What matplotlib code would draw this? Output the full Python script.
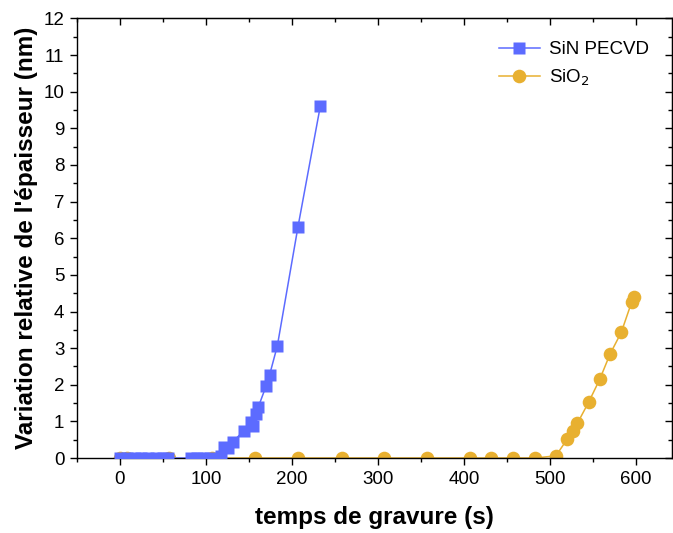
import matplotlib.pyplot as plt
from matplotlib.ticker import MultipleLocator

plt.rcParams['font.family'] = ['Liberation Sans', 'DejaVu Sans']

# SiN PECVD (blue squares)
sin_t = [0, 8, 17, 25, 33, 42, 50, 56, 83, 90, 97, 105,
         117, 121, 126, 131, 144, 152, 155, 158, 161, 170, 174, 183, 207, 233]
sin_d = [0, 0, 0, 0, 0, 0, 0, 0, 0, 0, 0, 0,
         0.05, 0.3, 0.27, 0.44, 0.74, 0.98, 0.87, 1.2, 1.4, 1.97, 2.27, 3.06, 6.31, 9.61]

# SiO2 (orange circles)
sio2_t = [0, 8, 57, 107, 157, 207, 258, 307, 357, 407, 432, 457, 483, 507,
          520, 527, 532, 545, 558, 570, 583, 595, 598]
sio2_d = [0, 0, 0, 0, 0, 0, 0, 0, 0, 0, 0, 0, 0, 0.06,
          0.51, 0.75, 0.95, 1.52, 2.15, 2.84, 3.43, 4.25, 4.40]

blue = '#5C6BFF'
orange = '#E8B030'

fig = plt.figure(figsize=(6.73, 5.33), dpi=100)
ax = fig.add_axes([0.1144, 0.1407, 0.8841, 0.8246])

ax.plot(sin_t, sin_d, color=blue, lw=1.1, marker='s', ms=8.6,
        mec='none', label='SiN PECVD', zorder=3, clip_on=True)
ax.plot(sio2_t, sio2_d, color=orange, lw=1.1, marker='o', ms=9.8,
        mec='none', label='SiO$_2$', zorder=2, clip_on=True)

ax.set_xlim(-50, 642)
ax.set_ylim(0, 12)
ax.xaxis.set_major_locator(MultipleLocator(100))
ax.xaxis.set_minor_locator(MultipleLocator(50))
ax.yaxis.set_major_locator(MultipleLocator(1))
ax.yaxis.set_minor_locator(MultipleLocator(0.5))
ax.tick_params(which='major', direction='out', length=5, width=1,
               labelsize=13.5, pad=4)
ax.tick_params(which='minor', direction='out', length=3, width=1)
for s in ax.spines.values():
    s.set_linewidth(1)

top = ax.secondary_xaxis('top')
top.xaxis.set_major_locator(MultipleLocator(100))
top.xaxis.set_minor_locator(MultipleLocator(50))
top.tick_params(which='major', direction='in', length=5, width=1, labeltop=False)
top.tick_params(which='minor', direction='in', length=3, width=1)
right = ax.secondary_yaxis('right')
right.yaxis.set_major_locator(MultipleLocator(1))
right.yaxis.set_minor_locator(MultipleLocator(0.5))
right.tick_params(which='major', direction='in', length=5, width=1, labelright=False)
right.tick_params(which='minor', direction='in', length=3, width=1)

ax.set_xlabel('temps de gravure (s)', fontsize=17.5, fontweight='bold', labelpad=13)
ax.set_ylabel("Variation relative de l'épaisseur (nm)", fontsize=17.5,
              fontweight='bold', labelpad=4)

ax.legend(loc='upper right', frameon=False, fontsize=13.5, handlelength=2.2,
          borderaxespad=0.8, labelspacing=0.5, handletextpad=0.5)

fig.savefig('out.png', dpi=100)
